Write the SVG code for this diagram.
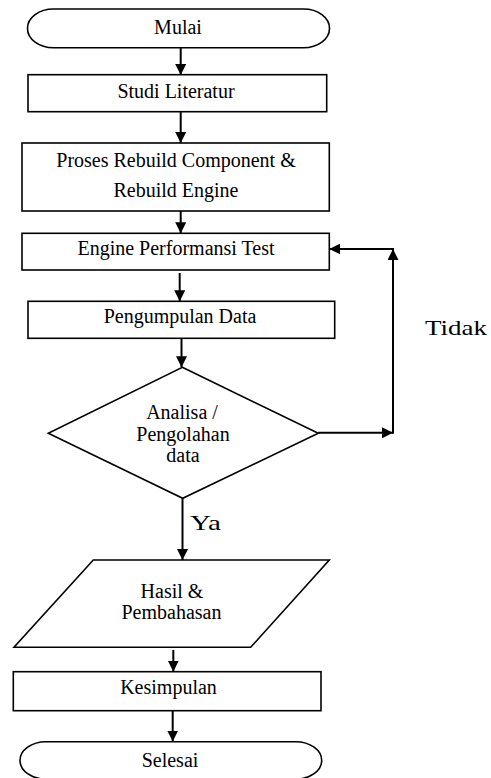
<svg xmlns="http://www.w3.org/2000/svg" width="491" height="778" viewBox="0 0 491 778">
<style>
.shape{fill:#fff;stroke:#000;stroke-width:1.6}
.t{font-family:"Liberation Serif","Times New Roman",serif;font-size:20px;fill:#000;text-anchor:middle}
.lbl{font-family:"Liberation Serif","Times New Roman",serif;font-size:22px;fill:#000}
.c{stroke:#000;stroke-width:2;fill:none}
</style>
<defs>
<marker id="ah" markerUnits="userSpaceOnUse" markerWidth="11" markerHeight="11" refX="11" refY="5.5" orient="auto">
<path d="M0,0 L11,5.5 L0,11 z" fill="#000"/>
</marker>
</defs>
<rect width="491" height="778" fill="#fff"/>
<g id="connectors">
<line class="c" x1="180.7" y1="47.7" x2="180.7" y2="75" marker-end="url(#ah)"/>
<line class="c" x1="180.7" y1="111.7" x2="180.7" y2="143" marker-end="url(#ah)"/>
<line class="c" x1="180.7" y1="211" x2="180.7" y2="233.3" marker-end="url(#ah)"/>
<line class="c" x1="179.7" y1="273" x2="179.7" y2="301.3" marker-end="url(#ah)"/>
<line class="c" x1="181.5" y1="338.3" x2="181.5" y2="367.3" marker-end="url(#ah)"/>
<line class="c" x1="318.3" y1="432.8" x2="393" y2="432.8" marker-end="url(#ah)"/>
<line class="c" x1="393" y1="433.8" x2="393" y2="249" marker-end="url(#ah)"/>
<line class="c" x1="394" y1="249" x2="329.3" y2="249" marker-end="url(#ah)"/>
<line class="c" x1="182.5" y1="498.3" x2="182.5" y2="560" marker-end="url(#ah)"/>
<line class="c" x1="173.3" y1="650" x2="173.3" y2="671.7" marker-end="url(#ah)"/>
<line class="c" x1="172.7" y1="710.7" x2="172.7" y2="741.5" marker-end="url(#ah)"/>
<text class="lbl" x="425" y="335" textLength="62" lengthAdjust="spacingAndGlyphs">Tidak</text>
<text class="lbl" x="190" y="530" textLength="31" lengthAdjust="spacingAndGlyphs">Ya</text>
</g>
<g id="mulai">
<rect class="shape" x="27.5" y="9" width="302" height="38.7" rx="26" ry="19.3"/>
<text class="t" x="178" y="34.3">Mulai</text>
</g>
<g id="studi">
<rect class="shape" x="28" y="74.7" width="298.7" height="37"/>
<text class="t" x="176" y="97.7">Studi Literatur</text>
</g>
<g id="proses">
<rect class="shape" x="22" y="143" width="307.3" height="68"/>
<text class="t" x="176" y="167">Proses Rebuild Component &amp;</text>
<text class="t" x="176" y="197">Rebuild Engine</text>
</g>
<g id="engine">
<rect class="shape" x="22" y="233.3" width="307.3" height="36.7"/>
<text class="t" x="176" y="255">Engine Performansi Test</text>
</g>
<g id="pengumpulan">
<rect class="shape" x="28" y="301.3" width="306.7" height="37"/>
<text class="t" x="180" y="322.7">Pengumpulan Data</text>
</g>
<g id="analisa">
<polygon class="shape" points="182.3,367.3 318.3,433.3 182.7,498.3 48.3,433.3"/>
<text class="t" x="182" y="419">Analisa /</text>
<text class="t" x="183" y="441">Pengolahan</text>
<text class="t" x="183" y="461.7">data</text>
</g>
<g id="hasil">
<polygon class="shape" points="93.3,560 329.3,560 250.7,647.3 14,647.3"/>
<text class="t" x="172" y="598.3">Hasil &amp;</text>
<text class="t" x="171.5" y="619">Pembahasan</text>
</g>
<g id="kesimpulan">
<rect class="shape" x="13.3" y="671.7" width="307.7" height="39"/>
<text class="t" x="168.5" y="694">Kesimpulan</text>
</g>
<g id="selesai">
<rect class="shape" x="20" y="741.7" width="301.7" height="37.5" rx="26" ry="18.7"/>
<text class="t" x="170" y="766.7">Selesai</text>
</g>
</svg>
